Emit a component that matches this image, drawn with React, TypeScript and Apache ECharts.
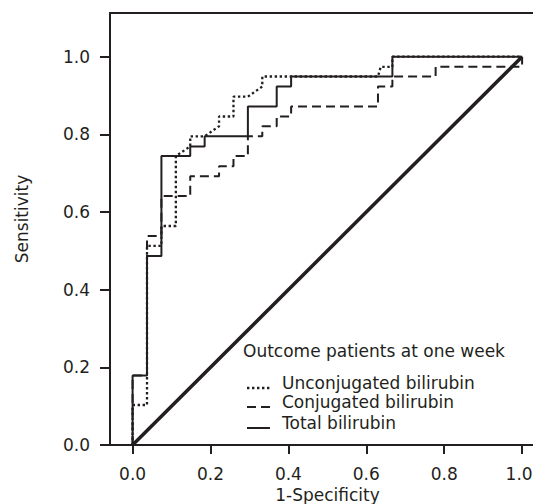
import React, { useEffect, useRef } from "react";
import * as echarts from "echarts";

const TICK_VALUES = [0, 0.2, 0.4, 0.6, 0.8, 1.0];

const LEGEND_TITLE = "Outcome patients at one week";
const SERIES_NAMES = ["Unconjugated bilirubin", "Conjugated bilirubin", "Total bilirubin"];

// ROC curve vertices (1-Specificity, Sensitivity)
const UNCONJ_FPR = [0, 0, 0.037, 0.037, 0.074, 0.074, 0.111, 0.111, 0.148, 0.148, 0.185, 0.222, 0.222, 0.259, 0.259, 0.296, 0.333, 0.333, 0.63, 0.637, 0.667, 0.667, 1.0];
const UNCONJ_TPR = [0, 0.103, 0.103, 0.513, 0.513, 0.564, 0.564, 0.744, 0.769, 0.795, 0.795, 0.821, 0.846, 0.846, 0.897, 0.897, 0.923, 0.949, 0.949, 0.974, 0.974, 1.0, 1.0];

const CONJ_FPR = [0, 0, 0.037, 0.037, 0.074, 0.074, 0.148, 0.148, 0.222, 0.222, 0.259, 0.259, 0.296, 0.296, 0.333, 0.333, 0.37, 0.37, 0.407, 0.407, 0.63, 0.63, 0.667, 0.667, 0.778, 0.778, 1.0, 1.0];
const CONJ_TPR = [0, 0.179, 0.179, 0.538, 0.538, 0.641, 0.641, 0.692, 0.692, 0.718, 0.718, 0.744, 0.744, 0.795, 0.795, 0.821, 0.821, 0.846, 0.846, 0.872, 0.872, 0.923, 0.923, 0.949, 0.949, 0.974, 0.974, 1.0];

const TOTAL_FPR = [0, 0, 0.037, 0.037, 0.074, 0.074, 0.148, 0.148, 0.185, 0.185, 0.296, 0.296, 0.37, 0.37, 0.407, 0.407, 0.667, 0.667, 1.0];
const TOTAL_TPR = [0, 0.179, 0.179, 0.487, 0.487, 0.744, 0.744, 0.769, 0.769, 0.795, 0.795, 0.872, 0.872, 0.923, 0.923, 0.949, 0.949, 1.0, 1.0];

const REF_X = [0, 1];
const REF_Y = [0, 1];

const INK = "#231f20";
const FONT = "DejaVu Sans";
const FS = 17;

const DOTTED = [2.4, 2.6];
const DASHED = [9, 5];

const pairs = (xs: number[], ys: number[]) => xs.map((x, i) => [x, ys[i]]);

export default function App() {
  const ref = useRef<HTMLDivElement>(null);
  useEffect(() => {
    if (!ref.current) return;
    const chart = echarts.init(ref.current, null, { renderer: "svg" });
    const textBase = { fontFamily: FONT, fontSize: FS, color: INK };

    // legend drawn as graphic (icons sit on the text baseline as in the reference)
    const legendX = 247;
    const legendTextX = 282;
    const rowCenters = [383, 402, 423];
    const iconOffset = 5;
    const dashes = [DOTTED, DASHED, null];
    const widths = [2.3, 2, 2];
    const legendGraphics: any[] = [
      {
        type: "text",
        x: 243,
        y: 351,
        style: { text: LEGEND_TITLE, fontFamily: FONT, fontSize: FS, fill: INK, verticalAlign: "middle", align: "left" },
      },
    ];
    SERIES_NAMES.forEach((name, i) => {
      const cy = rowCenters[i];
      legendGraphics.push({
        type: "line",
        shape: { x1: legendX, y1: cy + iconOffset, x2: legendX + 23, y2: cy + iconOffset },
        style: { stroke: INK, lineWidth: widths[i], lineDash: dashes[i] || undefined, lineCap: "butt" },
      });
      legendGraphics.push({
        type: "text",
        x: legendTextX,
        y: cy,
        style: { text: name, fontFamily: FONT, fontSize: FS, fill: INK, verticalAlign: "middle", align: "left" },
      });
    });

    const lastTick = TICK_VALUES[TICK_VALUES.length - 1];

    chart.setOption({
      animation: false,
      backgroundColor: "#ffffff",
      textStyle: { fontFamily: FONT },
      graphic: legendGraphics,
      grid: { left: 110, top: 13, right: 0, bottom: 59, containLabel: false, outerBoundsMode: "none" },
      xAxis: [
        {
          type: "value",
          min: -0.058,
          max: 1.028,
          name: "1-Specificity",
          nameLocation: "middle",
          nameGap: 41,
          nameTextStyle: { ...textBase, padding: [0, 0, 0, 12] },
          axisLine: { show: true, onZero: false, lineStyle: { color: INK, width: 2 } },
          axisTick: { show: true, inside: false, length: 9, customValues: TICK_VALUES, lineStyle: { color: INK, width: 2 } },
          axisLabel: {
            ...textBase,
            margin: 20,
            customValues: TICK_VALUES,
            formatter: (v: number) => (v === lastTick ? `{edge|${v.toFixed(1)}}` : v.toFixed(1)),
            rich: {
              edge: { fontFamily: FONT, fontSize: FS, color: INK, padding: [0, 6, 0, 0] },
            },
          },
          splitLine: { show: false },
        },
        {
          type: "value",
          position: "top",
          min: -0.058,
          max: 1.028,
          axisLine: { show: true, onZero: false, lineStyle: { color: INK, width: 2 } },
          axisTick: { show: false },
          axisLabel: { show: false },
          splitLine: { show: false },
        },
      ],
      yAxis: {
        type: "value",
        min: 0,
        max: 1.1125,
        name: "Sensitivity",
        nameLocation: "middle",
        nameGap: 80,
        nameRotate: 90,
        nameTextStyle: { ...textBase, padding: [0, 0, 0, 20] },
        axisLine: { show: true, onZero: false, lineStyle: { color: INK, width: 2 } },
        axisTick: { show: true, inside: false, length: 10, customValues: TICK_VALUES, lineStyle: { color: INK, width: 2 } },
        axisLabel: {
          ...textBase,
          margin: 20,
          customValues: TICK_VALUES,
          formatter: (v: number) => v.toFixed(1),
        },
        splitLine: { show: false },
      },
      series: [
        {
          name: "Reference",
          type: "line",
          data: pairs(REF_X, REF_Y),
          symbol: "none",
          lineStyle: { color: INK, width: 3.5, type: "solid" },
          itemStyle: { color: INK },
          silent: true,
          z: 1,
        },
        {
          name: SERIES_NAMES[0],
          type: "line",
          data: pairs(UNCONJ_FPR, UNCONJ_TPR),
          symbol: "none",
          lineStyle: { color: INK, width: 2.3, type: DOTTED, cap: "butt" },
          itemStyle: { color: INK },
          z: 3,
        },
        {
          name: SERIES_NAMES[1],
          type: "line",
          data: pairs(CONJ_FPR, CONJ_TPR),
          symbol: "none",
          lineStyle: { color: INK, width: 2, type: DASHED, cap: "butt" },
          itemStyle: { color: INK },
          z: 2,
        },
        {
          name: SERIES_NAMES[2],
          type: "line",
          data: pairs(TOTAL_FPR, TOTAL_TPR),
          symbol: "none",
          lineStyle: { color: INK, width: 2, type: "solid" },
          itemStyle: { color: INK },
          z: 4,
        },
      ],
    });
    return () => chart.dispose();
  }, []);
  return (
    <div
      ref={ref}
      style={{ position: "fixed", left: 0, top: 0, width: 533, height: 504, background: "#fff" }}
    />
  );
}
